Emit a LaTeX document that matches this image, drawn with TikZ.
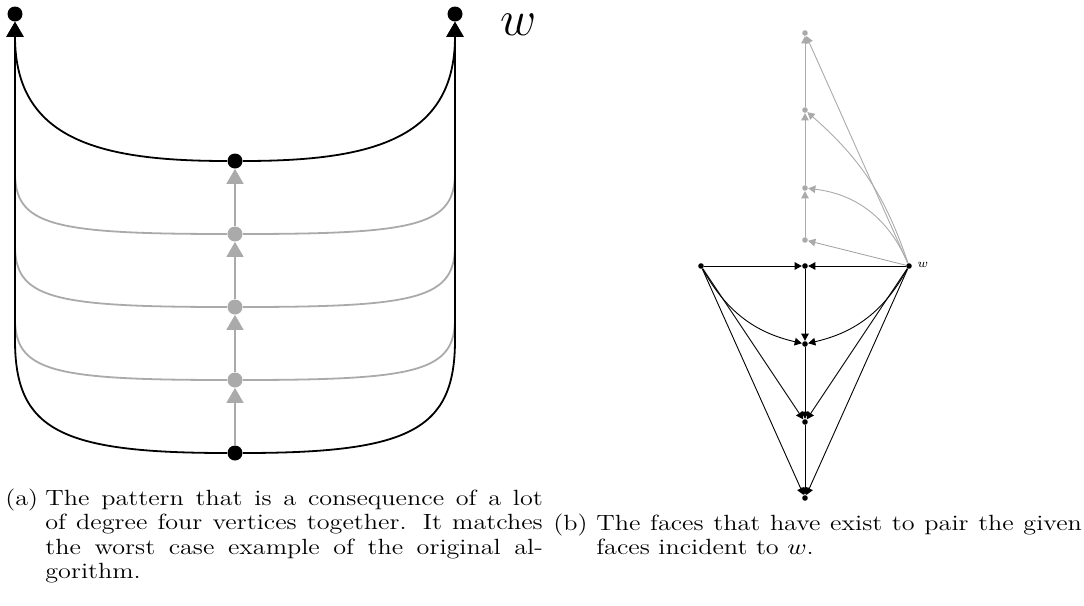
\documentclass[tikz,border=0pt]{standalone}
\usepackage{graphicx}
\usetikzlibrary{arrows.meta}
\definecolor{gr}{RGB}{170,170,170}
\newcommand{\capfont}{\fontsize{11}{12.25}\selectfont}
\newcommand{\capblock}[1]{\scalebox{1.19}[1]{\begin{tabular}[t]{@{}l@{}}#1\end{tabular}}}
\begin{document}
\begin{tikzpicture}[x=0.5pt,y=-0.5pt,
  bv/.style={circle,fill=black,inner sep=0pt,minimum size=7.5pt},
  gv/.style={bv,fill=gr},
  sv/.style={circle,fill=black,inner sep=0pt,minimum size=2.8pt},
  sgv/.style={sv,fill=gr},
  bigarrow/.style={-{Triangle[width=8.5pt,length=7.5pt]}},
  smallarrow/.style={-{Triangle[width=3.8pt,length=3.6pt]}},
  blk/.style={draw=black,line width=0.9pt,bigarrow},
  gry/.style={draw=gr,line width=0.9pt,bigarrow},
  sblk/.style={draw=black,line width=0.45pt,smallarrow},
  sgry/.style={draw=gr,line width=0.45pt,smallarrow},
  captext/.style={anchor=base west,inner sep=0pt,font=\capfont},
]
\useasboundingbox (0,0) rectangle (1084,606);
% ---------- left figure ----------
\node[bv] (tl) at (15,14) {};
\node[bv] (tr) at (455,14) {};
\node[bv] (c0) at (235,161) {};
\node[gv] (g1) at (235,234) {};
\node[gv] (g2) at (235,307) {};
\node[gv] (g3) at (235,380) {};
\node[bv] (cb) at (235,453) {};
\node[font=\fontsize{25}{25}\selectfont,inner sep=0pt] (wl) at (519,25) {$w$};
% grey curves
\draw[gry] (g1) .. controls (50,234) and (15,225) .. (15,172) -- (tl);
\draw[gry] (g1) .. controls (420,234) and (455,225) .. (455,172) -- (tr);
\draw[gry] (g2) .. controls (50,307) and (15,298) .. (15,245) -- (tl);
\draw[gry] (g2) .. controls (420,307) and (455,298) .. (455,245) -- (tr);
\draw[gry] (g3) .. controls (50,380) and (15,371) .. (15,318) -- (tl);
\draw[gry] (g3) .. controls (420,380) and (455,371) .. (455,318) -- (tr);
% grey column
\draw[gry] (cb) -- (g3);
\draw[gry] (g3) -- (g2);
\draw[gry] (g2) -- (g1);
\draw[gry] (g1) -- (c0);
% black curves
\draw[blk] (c0) .. controls (100,161) and (15,140) .. (tl);
\draw[blk] (c0) .. controls (370,161) and (455,140) .. (tr);
\draw[blk] (cb) .. controls (60,453) and (15,430) .. (15,340) -- (tl);
\draw[blk] (cb) .. controls (410,453) and (455,430) .. (455,340) -- (tr);
% ---------- right figure ----------
\node[sv] (L) at (701,266) {};
\node[sv] (M) at (805,266) {};
\node[sv] (W) at (909,266) {};
\node[sv] (B1) at (805,344) {};
\node[sv] (B2) at (805,422) {};
\node[sv] (B3) at (805,498) {};
\node[sgv] (G0) at (805,240) {};
\node[sgv] (G1) at (805,188) {};
\node[sgv] (G2) at (805,110) {};
\node[sgv] (G3) at (805,33) {};
\node[font=\fontsize{6.5}{7}\selectfont,anchor=west,inner sep=0pt] (wr) at (917,265) {$w$};
\draw[sgry] (W) -- (G0);
\draw[sgry] (W) to[bend right=30] (G1);
\draw[sgry] (W) to[bend right=15] (G2);
\draw[sgry] (W) -- (G3);
\draw[sgry] (G0) -- (G1);
\draw[sgry] (G1) -- (G2);
\draw[sgry] (G2) -- (G3);
\draw[sblk] (L) -- (M);
\draw[sblk] (W) -- (M);
\draw[sblk] (M) -- (B1);
\draw[sblk] (B1) -- (B2);
\draw[sblk] (B2) -- (B3);
\draw[sblk] (L) to[bend right=24] (B1);
\draw[sblk] (W) to[bend left=24] (B1);
\draw[sblk] (L) -- (B2);
\draw[sblk] (W) -- (B2);
\draw[sblk] (L) -- (B3);
\draw[sblk] (W) -- (B3);
% ---------- captions ----------
\node[captext] (la) at (5,505) {\capblock{(a)}};
\node[captext] (ta) at (45,505) {\capblock{\makebox[209pt][s]{The pattern that is a consequence of a lot}\\
\makebox[209pt][s]{of degree four vertices together. It matches}\\
\makebox[209pt][s]{the worst case example of the original al-}\\
gorithm.}};
\node[captext] (lb) at (553,530) {\capblock{(b)}};
\node[captext] (tb) at (596,530) {\capblock{\makebox[204pt][s]{The faces that have exist to pair the given}\\
faces incident to $w$.}};
\end{tikzpicture}
\end{document}
